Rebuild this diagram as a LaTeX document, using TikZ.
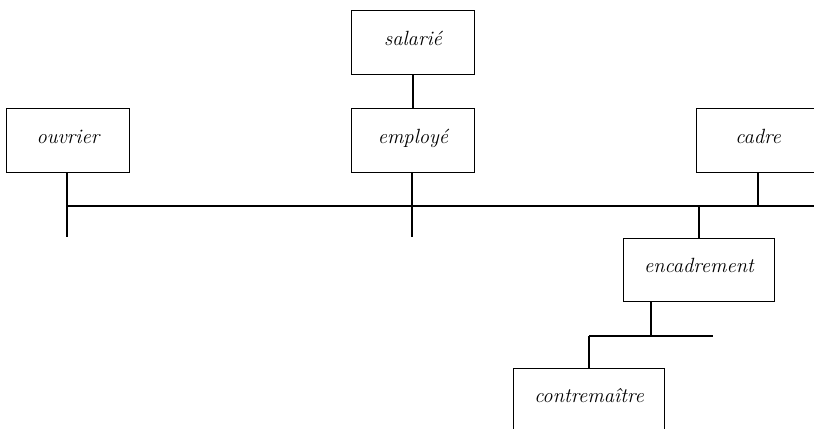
\documentclass[tikz,border=0pt]{standalone}
\usepackage{tikz}
\usetikzlibrary{positioning,calc}

\begin{document}
\begin{tikzpicture}[line width=0.6pt,
  term/.style={rectangle,draw,minimum width=2.46cm,minimum height=1.27cm,inner sep=0pt,
    text height=7pt,text depth=3.6pt,font=\fontsize{11.7}{14}\selectfont\itshape},
  wide/.style={term,minimum width=3.02cm}]
\useasboundingbox (0,0) rectangle (16.28,8.56);
\clip (0,0) rectangle (16.28,8.56);
% upper level
\node[term] (sal) at (8.26,7.71) {salarié};
\node[term] (emp) at (8.26,5.75) {employé};
\node[term] (ouv) at (1.36,5.75) {ouvrier};
\node[term] (cad) at (15.16,5.75) {cadre};
\draw (sal) -- (emp);
% common line
\coordinate (busl) at (1.34,4.44);
\coordinate (busr) at (16.4,4.44);
\draw (busl) -- (busr);
\foreach \n/\x in {ouv/1.34,emp/8.24}{
  \coordinate (\n-end) at (\x,3.82);
  \draw (\n.south -| \n-end) -- (\n-end);}
\draw (cad) -- (cad |- busr);
% lower level
\node[wide] (enc) at (13.98,3.16) {encadrement};
\node[wide] (con) at (11.78,0.56) {contremaître};
\draw (enc) -- (enc |- busr);
\coordinate (subl) at (11.78,1.84);
\coordinate (subr) at (14.26,1.84);
\draw (enc.south -| 13.02,0) -- (13.02,1.84);
\draw (subl) -- (subr);
\draw (con) -- (subl);
\end{tikzpicture}
\end{document}
